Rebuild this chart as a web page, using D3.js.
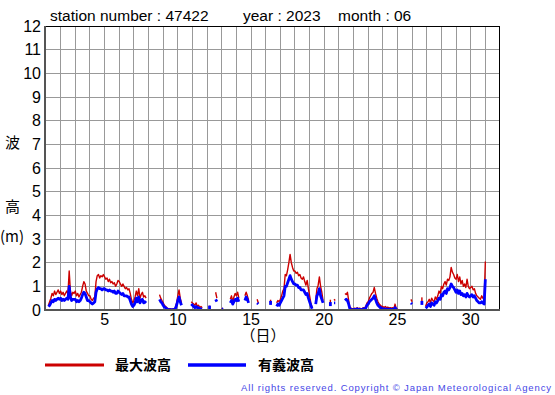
<!DOCTYPE html>
<meta charset="utf-8">
<script src="https://d3js.org/d3.v7.min.js"></script>
<style>
  body { margin: 0; background: #fff; }
  text { font-family: "Liberation Sans", Arial, sans-serif; }
  .jp { font-family: "Noto Sans CJK JP", sans-serif; }
</style>
<body>
<svg id="svg"></svg>
</body>
<script>
  const _ = null;

  // 2-hourly readings, June 1 00:00 ... June 30 24:00 (12 per day)
  const maxWave = [
    _, _, 0.2, 0.35, 0.5, 0.7, 0.6, 0.8, 0.65, 0.75, 0.85, 0.7,          // 1
    0.8, 0.65, 0.75, 0.6, 0.7, 0.8, 0.7, 1.65, 0.8, 0.6, 0.75, 0.7,      // 2
    0.8, 0.6, 0.7, 0.55, 0.65, 0.75, 1.0, 1.2, 1.1, 0.8, 0.7, 0.6,       // 3
    0.6, 0.45, 0.4, 0.5, 0.55, 1.2, 1.45, 1.5, 1.35, 1.45, 1.4, 1.5,     // 4
    1.4, 1.3, 1.35, 1.2, 1.3, 1.15, 1.2, 1.1, 1.15, 1.0, 1.1, 1.25,      // 5
    1.2, 1.1, 1.0, 1.1, 1.0, 0.9, 0.95, 0.85, 0.9, 0.7, 0.45, 0.3,       // 6
    0.4, 0.55, 0.8, 0.6, 0.9, 0.5, 0.65, 0.75, 0.55, 0.6, 0.5, _,        // 7
    _, _, _, _, _, _, _, _, _, 0.65, 0.5, 0.4,                           // 8
    0.3, 0.2, 0.15, 0.1, 0.05, 0.05, 0.05, 0.03, 0.05, 0.05, 0.1, 0.3,   // 9
    0.6, 0.85, 0.5, 0.3, _, _, _, _, _, _, _, 0.35,                      // 10
    0.3, 0.25, 0.2, 0.3, 0.15, 0.2, 0.1, 0.15, 0.1, _, _, _,             // 11
    _, _, 0.1, _, _, _, _, 0.75, 0.5, _, _, _,                           // 12
    0.08, 0.05, _, _, _, _, _, 0.45, 0.6, 0.35, 0.55, 0.7,               // 13
    0.6, 0.75, 0.5, _, _, _, _, 0.6, 0.75, 0.6, 0.4, _,                  // 14
    _, _, _, _, _, 0.45, 0.3, _, _, _, _, _,                             // 15
    _, _, _, _, 0.35, _, _, _, _, 0.3, 0.4, 0.35,                        // 16
    0.45, 0.6, 0.8, 0.9, 1.5, 1.45, 1.7, 2.0, 2.35, 2.0, 1.8, 1.65,      // 17
    1.65, 1.55, 1.6, 1.45, 1.5, 1.35, 1.3, 1.4, 1.2, 1.05, 1.25, 0.9,    // 18
    0.6, 0.3, 0.1, _, _, 0.4, 0.9, 1.05, 1.4, 1.0, 0.75, 0.4,            // 19
    _, _, _, _, _, 0.35, _, _, 0.45, 0.4, _, _,                          // 20
    _, _, _, _, _, 0.7, 0.65, 0.75, 0.4, 0.1, 0.08, 0.05,                // 21
    0.05, 0.08, 0.05, 0.1, 0.05, 0.08, 0.05, 0.05, 0.1, 0.08, 0.15, 0.3, // 22
    0.35, 0.5, 0.6, 0.7, 0.75, 0.95, 0.7, 0.5, 0.35, 0.25, 0.2, 0.15,    // 23
    0.15, 0.1, 0.15, 0.1, 0.12, 0.08, 0.1, 0.08, 0.1, 0.05, 0.25, 0.05,  // 24
    0.05, _, _, _, _, _, _, _, _, _, _, 0.45,                            // 25
    0.35, _, _, _, _, _, _, _, 0.45, _, _, 0.15,                         // 26
    0.3, 0.35, 0.45, 0.3, 0.5, 0.4, 0.35, 0.55, 0.45, 0.6, 0.8, 0.7,     // 27
    1.0, 0.9, 1.1, 1.2, 1.05, 1.3, 1.25, 1.4, 1.8, 1.6, 1.5, 1.35,       // 28
    1.3, 1.5, 1.2, 1.4, 1.1, 1.25, 1.0, 1.1, 0.95, 1.3, 1.0, 0.9,        // 29
    0.95, 1.0, 0.85, 0.9, 0.7, 0.6, 0.55, 0.5, 0.45, 0.6, 0.5, 0.45,     // 30
    2.05
  ];

  const sigWave = [
    _, _, 0.14, 0.2, 0.3, 0.4, 0.35, 0.45, 0.4, 0.45, 0.5, 0.45,         // 1
    0.5, 0.4, 0.45, 0.4, 0.45, 0.5, 0.45, 1.0, 0.55, 0.4, 0.45, 0.45,    // 2
    0.45, 0.35, 0.4, 0.35, 0.4, 0.5, 0.65, 0.75, 0.7, 0.55, 0.4, 0.4,    // 3
    0.35, 0.3, 0.25, 0.3, 0.35, 0.75, 0.9, 0.95, 0.9, 0.9, 0.85, 0.9,    // 4
    0.9, 0.85, 0.85, 0.8, 0.85, 0.8, 0.8, 0.75, 0.8, 0.7, 0.7, 0.8,      // 5
    0.75, 0.7, 0.65, 0.7, 0.6, 0.6, 0.6, 0.55, 0.55, 0.4, 0.25, 0.15,    // 6
    0.2, 0.3, 0.5, 0.35, 0.55, 0.3, 0.4, 0.45, 0.3, 0.35, 0.3, _,        // 7
    _, _, _, _, _, _, _, _, _, 0.45, 0.35, 0.3,                          // 8
    0.2, 0.12, 0.1, 0.05, 0.03, 0.02, 0.02, 0.02, 0.02, 0.03, 0.05, 0.2, // 9
    0.4, 0.55, 0.35, 0.2, _, _, _, _, _, _, _, 0.25,                     // 10
    0.2, 0.15, 0.1, 0.15, 0.1, 0.1, 0.05, 0.05, 0.05, _, _, _,           // 11
    _, _, 0.1, _, _, _, _, 0.45, 0.35, _, _, _,                          // 12
    0.05, 0.03, _, _, _, _, _, 0.3, 0.4, 0.25, 0.35, 0.45,               // 13
    0.4, 0.5, 0.35, _, _, _, _, 0.4, 0.55, 0.45, 0.3, _,                 // 14
    _, _, _, _, _, 0.3, 0.25, _, _, _, _, _,                             // 15
    _, _, _, _, 0.3, _, _, _, _, 0.15, 0.25, 0.2,                        // 16
    0.3, 0.4, 0.5, 0.6, 1.0, 1.0, 1.15, 1.3, 1.45, 1.3, 1.2, 1.1,        // 17
    1.1, 1.05, 1.05, 0.95, 0.95, 0.85, 0.85, 0.85, 0.75, 0.65, 0.7, 0.5, // 18
    0.35, 0.2, 0.05, _, _, 0.25, 0.6, 0.7, 0.9, 0.6, 0.45, 0.3,          // 19
    _, _, _, _, _, 0.25, _, _, 0.3, 0.3, _, _,                           // 20
    _, _, _, _, _, 0.4, 0.45, 0.4, 0.25, 0.05, 0.03, 0.02,               // 21
    0.02, 0.03, 0.02, 0.05, 0.02, 0.03, 0.02, 0.02, 0.05, 0.03, 0.08, 0.2, // 22
    0.25, 0.35, 0.4, 0.45, 0.5, 0.6, 0.45, 0.3, 0.2, 0.15, 0.1, 0.08,    // 23
    0.05, 0.04, 0.05, 0.04, 0.04, 0.03, 0.04, 0.03, 0.03, 0.02, 0.1, 0.02, // 24
    0.02, _, _, _, _, _, _, _, _, _, _, 0.3,                             // 25
    0.25, _, _, _, _, _, _, _, 0.3, _, _, 0.08,                          // 26
    0.12, 0.2, 0.25, 0.15, 0.3, 0.25, 0.2, 0.35, 0.3, 0.4, 0.5, 0.45,    // 27
    0.65, 0.6, 0.75, 0.8, 0.7, 0.9, 0.85, 0.95, 1.1, 1.0, 0.95, 0.85,    // 28
    0.75, 0.85, 0.7, 0.8, 0.65, 0.7, 0.6, 0.65, 0.55, 0.7, 0.6, 0.55,    // 29
    0.6, 0.65, 0.55, 0.6, 0.5, 0.4, 0.35, 0.3, 0.3, 0.35, 0.3, 0.25,     // 30
    1.3
  ];

  const yTicks = d3.range(0, 13);
  const xTickDays = [5, 10, 15, 20, 25, 30];
  const legendNames = ["最大波高", "有義波高"];
  const seriesColors = ["#cc0000", "#0000ff"];

  const width = 555, height = 395;
  const plotL = 46, plotR = 500, plotT = 26, plotB = 310;

  const svg = d3.select("#svg").attr("width", width).attr("height", height);

  const x = d3.scaleLinear().domain([1, 32]).range([plotL, plotR]);
  const y = d3.scaleLinear().domain([0, 12]).range([plotB, plotT]);
  const dayOf = i => 1 + i / 12;

  // grid
  svg.append("g")
    .selectAll("line")
    .data(d3.range(2, 32))
    .join("line")
    .attr("x1", d => x(d)).attr("x2", d => x(d))
    .attr("y1", plotT).attr("y2", plotB)
    .attr("stroke", "#999").attr("stroke-width", 1)
    .attr("shape-rendering", "crispEdges");
  svg.append("g")
    .selectAll("line")
    .data(d3.range(1, 12))
    .join("line")
    .attr("x1", plotL).attr("x2", plotR)
    .attr("y1", d => y(d)).attr("y2", d => y(d))
    .attr("stroke", "#999").attr("stroke-width", 1)
    .attr("shape-rendering", "crispEdges");

  // frame
  svg.append("line").attr("x1", plotL).attr("x2", plotR).attr("y1", plotT + 0.5).attr("y2", plotT + 0.5)
    .attr("stroke", "#000");
  svg.append("line").attr("x1", plotR - 0.5).attr("x2", plotR - 0.5).attr("y1", plotT).attr("y2", plotB)
    .attr("stroke", "#000");

  // series
  const lineGen = d3.line()
    .defined(d => d != null)
    .x((d, i) => x(dayOf(i)))
    .y(d => y(d));

  function drawSeries(values, color, w) {
    svg.append("path")
      .datum(values)
      .attr("fill", "none")
      .attr("stroke", color)
      .attr("stroke-width", w)
      .attr("stroke-linejoin", "round")
      .attr("d", lineGen);
    const lone = values.map((v, i) => ({ v, i }))
      .filter(p => p.v != null && values[p.i - 1] == null && values[p.i + 1] == null);
    svg.append("g").selectAll("rect")
      .data(lone)
      .join("rect")
      .attr("x", p => x(dayOf(p.i)) - w / 2)
      .attr("y", p => y(p.v) - 2)
      .attr("width", w)
      .attr("height", 4)
      .attr("fill", color);
  }
  drawSeries(maxWave, seriesColors[0], 1.4);
  drawSeries(sigWave, seriesColors[1], 2.8);

  // axes
  svg.append("line").attr("x1", plotL - 1).attr("x2", plotL - 1).attr("y1", plotT).attr("y2", plotB + 1)
    .attr("stroke", "#555").attr("stroke-width", 2);
  svg.append("line").attr("x1", plotL - 2).attr("x2", plotR).attr("y1", plotB).attr("y2", plotB)
    .attr("stroke", "#555").attr("stroke-width", 2);

  svg.append("g").selectAll("text")
    .data(yTicks)
    .join("text")
    .attr("x", 41)
    .attr("y", d => y(d) + 5.5)
    .attr("text-anchor", "end")
    .attr("font-size", 16)
    .text(d => d);

  svg.append("g").selectAll("text")
    .data(xTickDays)
    .join("text")
    .attr("x", d => x(d))
    .attr("y", 325)
    .attr("text-anchor", "middle")
    .attr("font-size", 16)
    .text(d => d);

  // titles
  svg.append("text").attr("x", 50).attr("y", 21).attr("font-size", 15.5).text("station number : 47422");
  svg.append("text").attr("x", 243).attr("y", 21).attr("font-size", 15.5).text("year : 2023");
  svg.append("text").attr("x", 338).attr("y", 21).attr("font-size", 15.5).text("month : 06");

  svg.append("text").attr("class", "jp").attr("x", 5).attr("y", 148).attr("font-size", 15).text("波");
  svg.append("text").attr("class", "jp").attr("x", 5).attr("y", 212).attr("font-size", 15).text("高");
  svg.append("text").attr("class", "jp").attr("x", 0).attr("y", 242).attr("font-size", 15).text("(m)");
  svg.append("text").attr("class", "jp").attr("x", 263).attr("y", 341).attr("text-anchor", "middle")
    .attr("font-size", 15).text("（日）");

  // legend
  const legendX = [[45, 104, 115], [188, 246, 258]];
  legendNames.forEach((name, k) => {
    svg.append("line")
      .attr("x1", legendX[k][0]).attr("x2", legendX[k][1])
      .attr("y1", 365).attr("y2", 365)
      .attr("stroke", seriesColors[k]).attr("stroke-width", k ? 3.5 : 3);
    svg.append("text").attr("class", "jp")
      .attr("x", legendX[k][2]).attr("y", 370)
      .attr("font-size", 14).attr("font-weight", "bold")
      .text(name);
  });

  svg.append("text")
    .attr("x", 241).attr("y", 391)
    .attr("font-size", 9.5)
    .attr("fill", "#4646e6")
    .attr("textLength", 310)
    .attr("lengthAdjust", "spacing")
    .text("All rights reserved. Copyright © Japan Meteorological Agency");
</script>
